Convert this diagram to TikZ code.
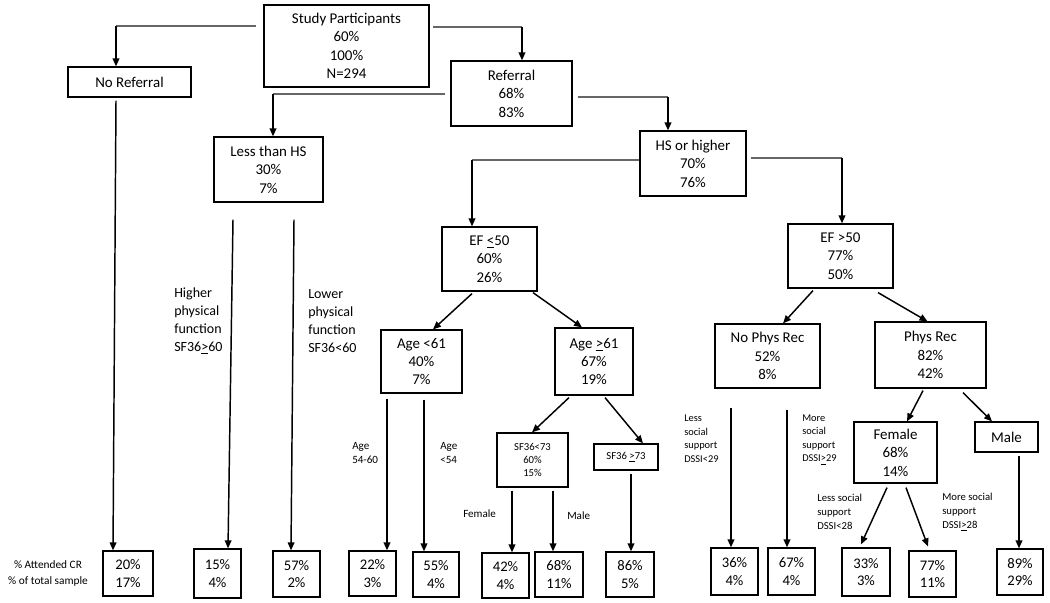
\documentclass[tikz,border=0pt]{standalone}
\usepackage{fontspec}
\setmainfont{Carlito}
\usetikzlibrary{arrows.meta,calc}
\def\pxu{0.75pt}
\newcommand\mybox[7]{\node[#1,minimum width=#5*\pxu,minimum height=#6*\pxu] (#2) at (#3,#4) {#7};}
\begin{document}
\begin{tikzpicture}[x=0.75pt,y=-0.75pt,
  box/.style={draw=black,line width=0.9pt,rectangle,inner sep=0pt,align=center,font=\fontsize{11.2}{13.8}\selectfont},
  sm/.style={box,font=\fontsize{8}{9.8}\selectfont},
  bot/.style={box,font=\fontsize{11}{13}\selectfont},
  arr/.style={line width=1.1pt,-{Triangle[length=6pt,width=5pt]}},
  hl/.style={line width=0.8pt,draw=black!60},
  lab/.style={inner sep=0pt,anchor=west,align=left},
]
\useasboundingbox (0,0) rectangle (1050,603);
% main boxes
\mybox{box}{sp}{346.5}{46}{165}{82}{Study Participants\\60\%\\100\%\\N=294}
\mybox{box}{nr}{129.5}{82}{123}{30}{No Referral}
\mybox{box}{ref}{511.5}{93.5}{121}{65}{Referral\\68\%\\83\%}
\mybox{box}{lths}{268.5}{169.5}{109}{65}{Less than HS\\30\%\\7\%}
\mybox{box}{hs}{693}{163.5}{106}{65}{HS or higher\\70\%\\76\%}
\mybox{box}{efl}{489.5}{259}{95}{64}{EF \underline{<}50\\60\%\\26\%}
\mybox{box}{efg}{840.5}{256}{105}{64}{EF >50\\77\%\\50\%}
\mybox{box}{ya}{421.5}{361.5}{81}{63}{Age <61\\40\%\\7\%}
\mybox{box}{oa}{594}{361.5}{78}{67}{Age \underline{>}61\\67\%\\19\%}
\mybox{box}{npr}{767.5}{356}{105}{64}{No Phys Rec\\52\%\\8\%}
\mybox{box}{pr}{930.5}{355}{111}{66}{Phys Rec\\82\%\\42\%}
\mybox{sm}{sfa}{532.5}{460}{71}{54}{SF36<73\\60\%\\15\%}
\mybox{sm}{sfb}{626}{457}{64}{26}{SF36 \underline{>}73}
\mybox{box}{fem}{895.5}{452.5}{83}{61}{Female\\68\%\\14\%}
\mybox{box}{male}{1006.5}{437}{63}{30}{Male}
% bottom boxes
\mybox{bot}{b1}{128}{573.5}{50}{45}{20\%\\17\%}
\mybox{bot}{b2}{217.5}{573.5}{47}{49}{15\%\\4\%}
\mybox{bot}{b3}{296.5}{574}{47}{46}{57\%\\2\%}
\mybox{bot}{b4}{372.5}{573.5}{47}{45}{22\%\\3\%}
\mybox{bot}{b5}{436}{574.5}{46}{45}{55\%\\4\%}
\mybox{bot}{b6}{505.5}{575.5}{47}{45}{42\%\\4\%}
\mybox{bot}{b7}{559}{574.5}{48}{45}{68\%\\11\%}
\mybox{bot}{b8}{630}{574.5}{48}{45}{86\%\\5\%}
\mybox{bot}{b9}{734.5}{571.5}{47}{47}{36\%\\4\%}
\mybox{bot}{b10}{791.5}{571.5}{47}{47}{67\%\\4\%}
\mybox{bot}{b11}{866}{572}{48}{48}{33\%\\3\%}
\mybox{bot}{b12}{932.5}{574}{47}{46}{77\%\\11\%}
\mybox{bot}{b13}{1020}{572}{46}{46}{89\%\\29\%}
% labels
\node[lab,font=\fontsize{10.5}{13.5}\selectfont] (hpf) at (174,321) {Higher\\physical\\function\\SF36\underline{>}60};
\node[lab,font=\fontsize{10.5}{13.5}\selectfont] (lpf) at (308,321) {Lower\\physical\\function\\SF36<60};
\node[lab,font=\fontsize{8.3}{10.5}\selectfont] (ag1) at (352,453) {Age\\54-60};
\node[lab,font=\fontsize{8.3}{10.5}\selectfont] (ag2) at (440,453) {Age\\<54};
\node[lab,font=\fontsize{8.3}{10}\selectfont] (lf) at (463,514) {Female};
\node[lab,font=\fontsize{8.3}{10}\selectfont] (lm) at (567,516) {Male};
\node[lab,font=\fontsize{7.8}{10.2}\selectfont] (ls1) at (684,438.5) {Less\\social\\support\\DSSI<29};
\node[lab,font=\fontsize{7.8}{10.2}\selectfont] (ms1) at (802,439.5) {More\\social\\support\\DSSI\underline{>}29};
\node[lab,font=\fontsize{8}{10.5}\selectfont] (ls2) at (817,512) {Less social\\support\\DSSI<28};
\node[lab,font=\fontsize{8}{10.5}\selectfont] (ms2) at (942,512) {More social\\support\\DSSI\underline{>}28};
\node[inner sep=0pt,align=center,font=\fontsize{8.5}{11.5}\selectfont] (leg) at (48,573.5) {\% Attended CR\\\% of total sample};
% elbow connectors
\coordinate (k1) at (116,26);
\coordinate (k2) at (522,27);
\coordinate (k3) at (273,94);
\coordinate (k4) at (668,97);
\coordinate (k5) at (472,160);
\coordinate (k6) at (842,158);
\draw[hl] ($(sp.west)+(-7,-20)$) -- (k1);
\draw[arr] (k1) -- (nr.north -| k1);
\draw[hl] ($(sp.east)+(3,-19)$) -- (k2);
\draw[arr] (k2) -- (ref.north -| k2);
\draw[hl] ($(ref.west)+(-5,0.5)$) -- (k3);
\draw[arr] (k3) -- (lths.north -| k3);
\draw[hl] ($(ref.east)+(5,3.5)$) -- (k4);
\draw[arr] (k4) -- (hs.north -| k4);
\draw[hl] ($(hs.west)+(0,-3.5)$) -- (k5);
\draw[arr] (k5) -- (efl.north -| k5);
\draw[hl] ($(hs.east)+(4,-5.5)$) -- (k6);
\draw[arr] (k6) -- (efg.north -| k6);
% straight arrows
\draw[arr] ($(nr.south)+(-13.5,3)$) -- ($(b1.north)+(-15,0)$);
\draw[arr] ($(lths.south)+(-35.5,17)$) -- ($(b2.north)+(10.5,0)$);
\draw[arr] ($(lths.south)+(25.5,17)$) -- ($(b3.north)+(-5.5,0)$);
\draw[arr] ($(efl.south)+(-17.5,2)$) -- ($(ya.north)+(11.5,0)$);
\draw[arr] ($(efl.south)+(43.5,1)$) -- ($(oa.north)+(-12,0)$);
\draw[arr] ($(efg.south)+(-27.5,2)$) -- ($(npr.north)+(15.5,0)$);
\draw[arr] ($(efg.south)+(37.5,4)$) -- ($(pr.north)+(-3,0)$);
\draw[arr] ($(ya.south)+(-34.5,5)$) -- ($(b4.north)+(14.5,0)$);
\draw[arr] ($(ya.south)+(2.5,6)$) -- ($(b5.north)+(-12,0)$);
\draw[arr] ($(oa.south)+(-25,2)$) -- ($(sfa.north)+(-0.5,0)$);
\draw[arr] ($(oa.south)+(11,2)$) -- ($(sfb.north)+(17,0)$);
\draw[arr] ($(sfa.south)+(-20.5,3)$) -- ($(b6.north)+(6.5,0)$);
\draw[arr] ($(sfa.south)+(20.5,3)$) -- ($(b7.north)+(-6,0)$);
\draw[arr] ($(sfb.south)+(5,3)$) -- ($(b8.north)+(1,0)$);
\draw[arr] ($(npr.south)+(-36.5,19)$) -- ($(b9.north)+(-3.5,0)$);
\draw[arr] ($(npr.south)+(19.5,21)$) -- ($(b10.north)+(-4.5,0)$);
\draw[arr] ($(pr.south)+(-7.5,2)$) -- ($(fem.north)+(11.5,0)$);
\draw[arr] ($(pr.south)+(32.5,4)$) -- ($(male.north)+(-14.5,0)$);
\draw[arr] ($(fem.south)+(-8.5,4)$) -- ($(b11.north)+(-5,-3)$);
\draw[arr] ($(fem.south)+(10.5,4)$) -- ($(b12.north)+(-4.5,-4)$);
\draw[arr] ($(male.south)+(12.5,3)$) -- ($(b13.north)+(-1,0)$);
\end{tikzpicture}
\end{document}
